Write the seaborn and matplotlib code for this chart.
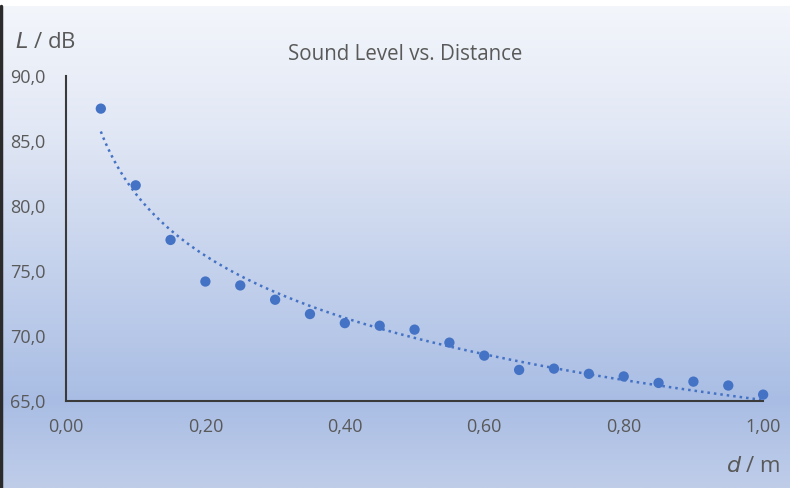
import numpy as np
import pandas as pd
import seaborn as sns
import matplotlib.pyplot as plt
from matplotlib.colors import LinearSegmentedColormap
from matplotlib.ticker import FuncFormatter
from matplotlib.lines import Line2D

# measured values
distance = [0.05, 0.10, 0.15, 0.20, 0.25, 0.30, 0.35, 0.40, 0.45, 0.50,
            0.55, 0.60, 0.65, 0.70, 0.75, 0.80, 0.85, 0.90, 0.95, 1.00]
level = [87.5, 81.6, 77.4, 74.2, 73.9, 72.8, 71.7, 71.0, 70.8, 70.5,
         69.5, 68.5, 67.4, 67.5, 67.1, 66.9, 66.4, 66.5, 66.2, 65.5]
y_ticks = [65, 70, 75, 80, 85, 90]
x_ticks = [0.0, 0.2, 0.4, 0.6, 0.8, 1.0]

df = pd.DataFrame({"d": distance, "L": level})

# logarithmic trendline like excel
a, b = np.polyfit(np.log(df["d"]), df["L"], 1)
trend = pd.DataFrame({"d": np.linspace(df["d"].min(), df["d"].max(), 200)})
trend["L"] = a * np.log(trend["d"]) + b

sns.set_style("white")
plt.rcParams["font.family"] = ["Open Sans", "DejaVu Sans"]

blue = "#4472C4"
grey = "#595959"

fig = plt.figure(figsize=(7.9, 4.88), dpi=100)

# gradient background
bg = fig.add_axes([0, 0, 1, 0.988], zorder=-5)
cmap = LinearSegmentedColormap.from_list(
    "bg", [(0, "#f3f6fb"), (0.25, "#e2e8f5"), (0.82, "#a9bde4"), (1, "#bfcde9")])
bg.imshow(np.linspace(0, 1, 256).reshape(-1, 1), aspect="auto", cmap=cmap,
          extent=[0, 1, 0, 1])
bg.set_axis_off()
fig.add_artist(Line2D([0.0015, 0.0015], [0, 0.988], color="#2b2b2b", lw=2.5))

ax = fig.add_axes([0.0835, 0.178, 0.8825, 0.666])
ax.patch.set_alpha(0)

sns.lineplot(data=trend, x="d", y="L", ax=ax, color=blue, lw=1.8,
             linestyle=(0, (1, 1.6)))
sns.scatterplot(data=df, x="d", y="L", ax=ax, color=blue, s=55,
                edgecolor="none", zorder=3, clip_on=False)

ax.set_xlim(0, 1)
ax.set_ylim(65, 90)
ax.set_xticks(x_ticks)
ax.set_yticks(y_ticks)
ax.xaxis.set_major_formatter(FuncFormatter(lambda v, p: f"{v:.2f}".replace(".", ",")))
ax.yaxis.set_major_formatter(FuncFormatter(lambda v, p: f"{v:.1f}".replace(".", ",")))
ax.tick_params(axis="both", length=0, labelsize=13, labelcolor=grey)
ax.tick_params(axis="y", pad=15)
ax.tick_params(axis="x", pad=12)
ax.set_xlabel("")
ax.set_ylabel("")
for side in ["top", "right"]:
    ax.spines[side].set_visible(False)
for side in ["left", "bottom"]:
    ax.spines[side].set_color("#3a3a3a")
    ax.spines[side].set_linewidth(1.5)

fig.text(405 / 790, 1 - 55 / 488, "Sound Level vs. Distance", ha="center",
         va="center", fontsize=14.8, color=grey)
fig.text(15 / 790, 1 - 42 / 488, r"$\mathit{L}$ / dB", ha="left", va="center",
         fontsize=16, color=grey)
fig.text(780 / 790, 1 - 466 / 488, r"$\mathit{d}$ / m", ha="right", va="center",
         fontsize=16, color=grey)

fig.savefig("out.png", dpi=100)
